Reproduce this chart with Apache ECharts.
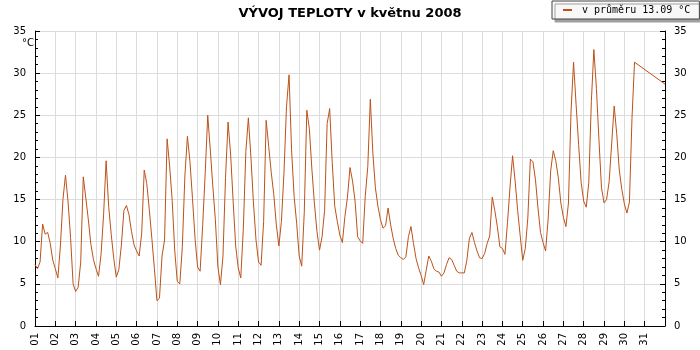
<!DOCTYPE html>
<html>
<head>
<meta charset="utf-8">
<script src="https://cdn.jsdelivr.net/npm/echarts@6.0.0/dist/echarts.min.js"></script>
<style>
  html, body { margin: 0; padding: 0; background: #fff; }
  #chart { width: 700px; height: 350px; }
</style>
</head>
<body>
<div id="chart"></div>
<script>
// Air temperature in May 2008, readings every 3 hours (00, 03, 06, ... 21 h), °C
const week1 = [
  7.3, 6.8, 7.6, 12.1, 10.9, 11.1, 9.8, 7.8,      // 01
  6.8, 5.7, 9.5, 15.0, 17.9, 14.8, 10.5, 5.0,     // 02
  4.1, 4.6, 7.6, 17.7, 15.2, 12.6, 9.7, 7.9,      // 03
  6.8, 5.9, 8.5, 13.2, 19.6, 14.2, 10.9, 8.0,     // 04
  5.8, 6.7, 9.6, 13.7, 14.3, 13.2, 11.2, 9.6,     // 05
  8.9, 8.3, 11.0, 18.5, 16.9, 13.8, 10.4, 6.8,    // 06
  3.0, 3.3, 8.3, 10.2, 22.2, 19.0, 14.9, 9.0      // 07
];
const week2 = [
  5.3, 5.0, 9.4, 17.8, 22.5, 19.5, 15.1, 10.4,    // 08
  7.0, 6.5, 11.9, 18.1, 25.0, 20.9, 16.6, 12.6,   // 09
  7.0, 4.9, 8.3, 17.6, 24.2, 20.4, 14.8, 9.5,     // 10
  6.9, 5.7, 11.5, 20.7, 24.7, 20.0, 14.6, 10.2,   // 11
  7.6, 7.2, 12.4, 24.4, 21.3, 18.2, 15.6, 12.0,   // 12
  9.5, 12.4, 18.1, 26.0, 29.8, 20.9, 15.4, 12.2,  // 13
  8.3, 7.1, 13.5, 25.6, 23.4, 18.6, 14.5, 11.2    // 14
];
const week3 = [
  9.0, 10.6, 13.7, 24.0, 25.8, 19.4, 14.2, 12.4,  // 15
  10.8, 9.9, 13.0, 15.3, 18.8, 17.2, 14.8, 10.6,  // 16
  10.1, 9.8, 15.4, 18.9, 26.9, 20.5, 16.4, 14.2,  // 17
  12.6, 11.6, 11.9, 14.0, 12.0, 10.4, 9.2, 8.4,   // 18
  8.1, 7.9, 8.2, 10.6, 11.8, 9.8, 8.0, 6.9,       // 19
  6.0, 4.9, 6.6, 8.3, 7.7, 6.8, 6.5, 6.4,         // 20
  5.9, 6.3, 7.3, 8.1, 7.9, 7.2, 6.5, 6.3          // 21
];
const week4 = [
  6.3, 6.3, 7.8, 10.4, 11.1, 9.9, 8.9, 8.1,       // 22
  8.0, 8.6, 9.8, 10.7, 15.3, 13.7, 11.8, 9.4,     // 23
  9.2, 8.5, 12.3, 16.5, 20.2, 17.2, 13.7, 10.7,   // 24
  7.8, 9.2, 12.8, 19.8, 19.5, 17.4, 14.0, 11.1,   // 25
  9.9, 8.9, 12.7, 18.4, 20.8, 19.6, 17.6, 14.6,   // 26
  12.9, 11.8, 14.6, 25.4, 31.3, 26.3, 21.5, 17.0, // 27
  14.8, 14.1, 17.0, 26.6, 32.8, 28.2, 22.1, 16.4  // 28
];
const week5 = [
  14.6, 15.0, 17.1, 21.6, 26.1, 22.8, 18.5, 16.2, // 29
  14.5, 13.4, 14.7, 24.6, 31.3                    // 30 (logging stops at noon)
];
// last stored reading at the end of the month, joined across the gap
const lastReading = [31, 28.7];

const dayLabels = ['01','02','03','04','05','06','07','08','09','10','11','12','13','14','15','16',
                   '17','18','19','20','21','22','23','24','25','26','27','28','29','30','31'];
const yTicks = { min: 0, max: 35, step: 5 };

const titleText = 'VÝVOJ TEPLOTY v květnu 2008';
const seriesName = 'v průměru 13.09 °C';
const unitText = '°C';

// x is measured in days since 1 May 00:00
const readingsPerDay = 8;
const points = [...week1, ...week2, ...week3, ...week4, ...week5]
  .map((v, i) => [i / readingsPerDay, v]);
points.push(lastReading);

const lineColor = '#bc521a';
const labelFont = { fontFamily: 'DejaVu Sans', fontSize: 10, color: '#000' };

function valueAxis(position, showGrid) {
  return {
    type: 'value',
    position: position,
    min: yTicks.min,
    max: yTicks.max,
    interval: yTicks.step,
    axisLine: { show: true, lineStyle: { color: '#000', width: 1 } },
    axisTick: { show: true, inside: true, length: 5, lineStyle: { color: '#000' } },
    minorTick: { show: true, splitNumber: 5, length: 3, lineStyle: { color: '#000' } },
    axisLabel: Object.assign({ margin: 9 }, labelFont),
    splitLine: { show: showGrid, lineStyle: { color: '#dcdcdc', width: 1 } },
    minorSplitLine: { show: false }
  };
}

const chart = echarts.init(document.getElementById('chart'), null, { renderer: 'canvas' });
chart.setOption({
  animation: false,
  backgroundColor: '#fff',
  title: {
    text: titleText,
    left: 'center',
    top: 2,
    textStyle: { fontFamily: 'DejaVu Sans', fontWeight: 'bold', fontSize: 13, color: '#000' }
  },
  legend: {
    left: 552,
    top: 1,
    padding: [4, 9, 4, 11],
    itemWidth: 9,
    itemHeight: 2,
    icon: 'rect',
    backgroundColor: '#f8f8f8',
    borderColor: '#444',
    borderWidth: 1,
    shadowColor: '#a0a0a0',
    shadowBlur: 0,
    shadowOffsetX: 3,
    shadowOffsetY: 3,
    textStyle: { fontFamily: 'DejaVu Sans Mono', fontSize: 10, color: '#000', padding: [0, 0, 0, 5] },
    data: [seriesName]
  },
  grid: { left: 35, right: 35, top: 31, bottom: 24, containLabel: false },
  xAxis: {
    type: 'value',
    min: 0,
    max: dayLabels.length,
    interval: 1,
    axisLine: { show: true, onZero: false, lineStyle: { color: '#000', width: 1 } },
    axisTick: { show: true, inside: true, length: 5, lineStyle: { color: '#000' } },
    axisLabel: Object.assign({
      rotate: 90,
      margin: 7,
      showMaxLabel: true,
      formatter: (v) => dayLabels[Math.round(v)] || ''
    }, labelFont),
    splitLine: { show: true, lineStyle: { color: '#dcdcdc', width: 1 } }
  },
  yAxis: [valueAxis('left', true), valueAxis('right', false)],
  graphic: [{
    type: 'text',
    left: 22,
    top: 38,
    style: { text: unitText, fontFamily: 'DejaVu Sans', fontSize: 10, fill: '#000' }
  }],
  series: [{
    name: seriesName,
    type: 'line',
    yAxisIndex: 0,
    data: points,
    showSymbol: false,
    symbol: 'none',
    color: lineColor,
    lineStyle: { color: lineColor, width: 1 },
    emphasis: { disabled: true }
  }]
});
</script>
</body>
</html>
